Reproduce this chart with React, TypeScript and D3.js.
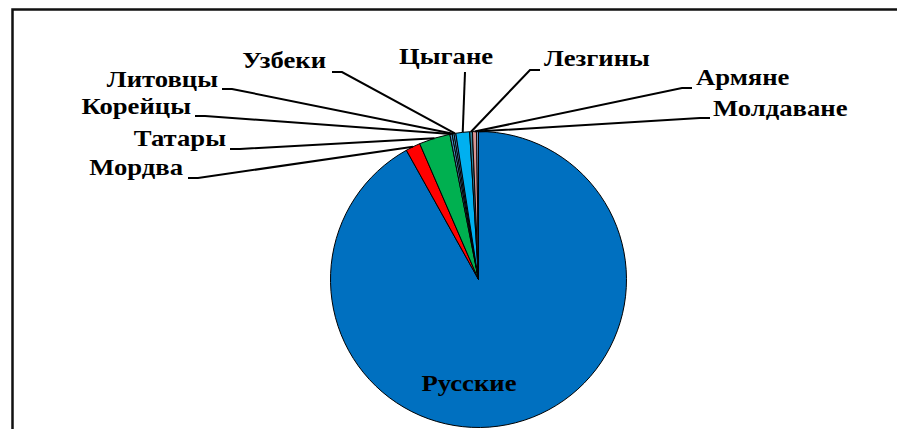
import React, { useEffect, useRef } from 'react';
import * as d3 from 'd3';

// shares of the population, in percent, clockwise from 12 o'clock
const groups = ['Русские', 'Мордва', 'Татары', 'Корейцы', 'Литовцы', 'Узбеки', 'Цыгане', 'Лезгины', 'Армяне', 'Молдаване'];
const shares = [91.9, 1.6, 3.4, 0.25, 0.2, 0.2, 1.5, 0.3, 0.45, 0.2];
const sliceColors = ['#0070C0', '#FF0000', '#00B050', '#4A8FBF', '#4BACC6', '#558ED5', '#00B0F0', '#31859C', '#D99694', '#8EB4E3'];

// where each label sits (baseline) and where its leader line starts
const labelSpots = [
  { tx: 469, ty: 391, anchor: 'middle', lx: null, ly: null },
  { tx: 183, ty: 175, anchor: 'end', lx: 188, ly: 178 },
  { tx: 226, ty: 146, anchor: 'end', lx: 230, ly: 149 },
  { tx: 191, ty: 114, anchor: 'end', lx: 195, ly: 116 },
  { tx: 218, ty: 87, anchor: 'end', lx: 222, ly: 89 },
  { tx: 326, ty: 68, anchor: 'end', lx: 332, ly: 72 },
  { tx: 446, ty: 64, anchor: 'middle', lx: 465, ly: 72 },
  { tx: 544, ty: 66, anchor: 'start', lx: 540, ly: 70 },
  { tx: 696, ty: 85, anchor: 'start', lx: 692, ly: 88 },
  { tx: 713, ty: 116, anchor: 'start', lx: 710, ly: 118 },
];

const W = 897;
const H = 429;

export default function App() {
  const svgRef = useRef<SVGSVGElement>(null);

  useEffect(() => {
    document.body.style.margin = '0';
    const svg = d3.select(svgRef.current);
    svg.selectAll('*').remove();

    const cx = 478.5;
    const cy = 279.5;
    const r = 148;

    svg.append('rect').attr('width', W).attr('height', H).attr('fill', '#fff');

    // chart frame (runs off the right and bottom edges)
    svg.append('rect')
      .attr('x', 12.5).attr('y', 9.5)
      .attr('width', W + 20).attr('height', H + 20)
      .attr('fill', 'none')
      .attr('stroke', '#111')
      .attr('stroke-width', 2.5);

    const data = groups.map((name, i) => ({ name, value: shares[i], color: sliceColors[i], spot: labelSpots[i] }));
    const pie = d3.pie<any>().sort(null).value((d) => d.value).startAngle(0).endAngle(2 * Math.PI);
    const arcs = pie(data);

    const arc = d3.arc<any>().innerRadius(0).outerRadius(r);
    const edge = d3.arc<any>().innerRadius(r).outerRadius(r);

    const g = svg.append('g').attr('transform', `translate(${cx},${cy})`);
    g.selectAll('path.slice')
      .data(arcs)
      .join('path')
      .attr('class', 'slice')
      .attr('d', arc)
      .attr('fill', (d) => d.data.color)
      .attr('stroke', '#000')
      .attr('stroke-width', 1);

    // leader lines
    arcs.forEach((a) => {
      const s = a.data.spot;
      if (s.lx == null) return;
      const [ex, ey] = edge.centroid(a);
      const px = cx + ex;
      const py = cy + ey;
      let pts: [number, number][];
      if (s.anchor === 'middle') {
        pts = [[s.lx, s.ly], [px, py]];
      } else {
        const bend = s.anchor === 'end' ? s.lx + 10 : s.lx - 10;
        pts = [[s.lx, s.ly], [bend, s.ly], [px, py]];
      }
      svg.append('path')
        .attr('d', d3.line()(pts))
        .attr('fill', 'none')
        .attr('stroke', '#000')
        .attr('stroke-width', 2);
    });

    // labels — the original type is set wide, so stretch it a little
    svg.selectAll('text.lbl')
      .data(arcs)
      .join('text')
      .attr('class', 'lbl')
      .attr('transform', (d) => `translate(${d.data.spot.tx},${d.data.spot.ty}) scale(1.16,1)`)
      .attr('text-anchor', (d) => d.data.spot.anchor)
      .style('font-family', "'Liberation Serif', 'DejaVu Serif', serif")
      .style('font-weight', 'bold')
      .style('font-size', '23px')
      .attr('fill', '#000')
      .text((d) => d.data.name);
  }, []);

  return <svg ref={svgRef} width={W} height={H} style={{ display: 'block' }} />;
}
